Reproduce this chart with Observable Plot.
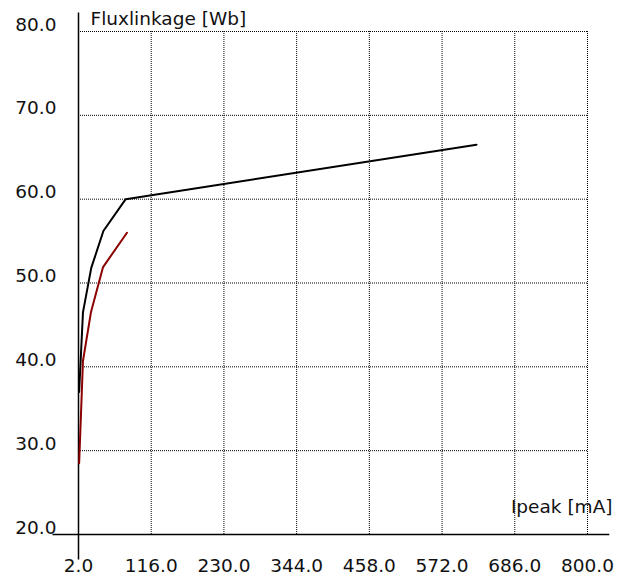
<!DOCTYPE html>
<html>
<head>
<meta charset="utf-8">
<script src="https://cdn.jsdelivr.net/npm/d3@7"></script>
<script src="https://cdn.jsdelivr.net/npm/@observablehq/plot@0.6"></script>
<style>
  html, body { margin: 0; padding: 0; background: #fff; }
  #chart svg { display: block; }
</style>
</head>
<body>
<div id="chart"></div>
<script>
// ---- data ----
const xTicks = [2, 116, 230, 344, 458, 572, 686, 800];
const yTicks = [20, 30, 40, 50, 60, 70, 80];

const blackCurrent = [3, 9, 22, 41, 76, 626];
const blackFlux    = [37, 46.5, 51.8, 56.2, 60.0, 66.5];

const redCurrent = [3, 9, 21.5, 40.5, 78];
const redFlux    = [28.5, 40.7, 46.5, 51.9, 56.0];

const xLabel = "Ipeak [mA]";
const yLabel = "Fluxlinkage [Wb]";

const black = blackCurrent.map((x, i) => ({x, y: blackFlux[i]}));
const red = redCurrent.map((x, i) => ({x, y: redFlux[i]}));

const xMin = xTicks[0], xMax = xTicks[xTicks.length - 1];
const yMin = yTicks[0], yMax = yTicks[yTicks.length - 1];
const font = "DejaVu Sans, Verdana, sans-serif";
const fs = 18.5;

const chart = Plot.plot({
  width: 618,
  height: 577,
  marginLeft: 78,
  marginRight: 31,
  marginTop: 31,
  marginBottom: 43,
  style: {fontFamily: font, background: "#fff"},
  x: {domain: [xMin, xMax], axis: null},
  y: {domain: [yMin, yMax], axis: null},
  marks: [
    // grid
    Plot.ruleX(xTicks, {y1: yMin, y2: yMax, stroke: "#000", strokeWidth: 1, strokeDasharray: "1,1"}),
    Plot.ruleY(yTicks, {x1: xMin, x2: xMax, stroke: "#000", strokeWidth: 1, strokeDasharray: "1,1"}),
    // axes lines
    Plot.ruleY([yMin], {x1: xMin - 40, x2: xMax + 35, stroke: "#000", strokeWidth: 1.5}),
    Plot.ruleX([xMin], {y1: yMin - 3.05, y2: yMax + 2.2, stroke: "#000", strokeWidth: 1.5}),
    // curves
    Plot.line(black, {x: "x", y: "y", stroke: "#000", strokeWidth: 2}),
    Plot.line(red, {x: "x", y: "y", stroke: "#8b0000", strokeWidth: 2}),
    // tick labels
    Plot.text(xTicks, {x: d => d, y: yMin, text: d => d.toFixed(1), textAnchor: "middle", lineAnchor: "bottom", dy: 37.5, fontSize: fs, fill: "#111"}),
    Plot.text(yTicks, {x: xMin, y: d => d, text: d => d.toFixed(1), textAnchor: "end", lineAnchor: "bottom", dx: -22, dy: -1, fontSize: fs, fill: "#111"}),
    // axis titles
    Plot.text([yLabel], {x: xMin, y: yMax, text: d => d, textAnchor: "start", lineAnchor: "bottom", dx: 12, dy: -7, fontSize: fs, fill: "#111"}),
    Plot.text([xLabel], {x: xMax, y: yMin, text: d => d, textAnchor: "end", lineAnchor: "bottom", dx: 25, dy: -22, fontSize: fs, fill: "#111"})
  ]
});
document.getElementById("chart").appendChild(chart);
</script>
</body>
</html>
